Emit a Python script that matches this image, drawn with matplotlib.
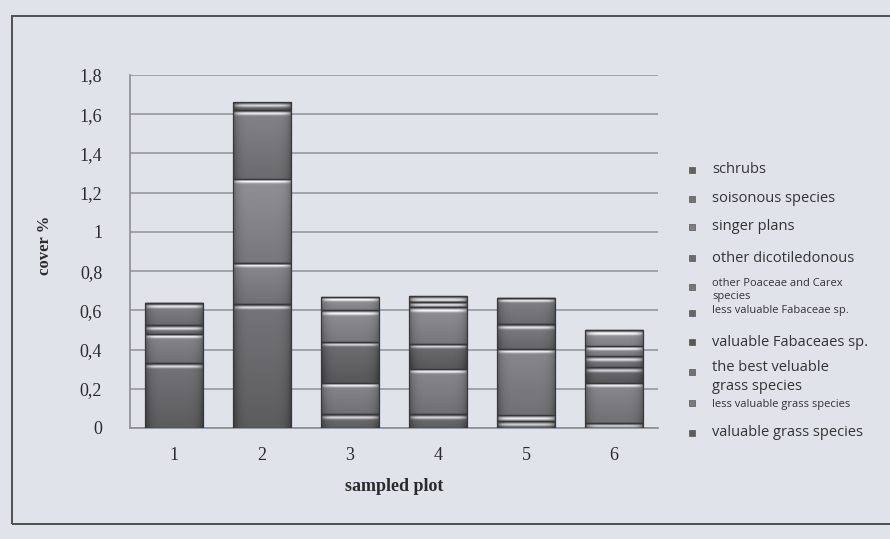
import numpy as np
import matplotlib.pyplot as plt
from matplotlib.patches import Rectangle

# sampled plots on the x axis
plots = ["1", "2", "3", "4", "5", "6"]
ticks = [0, 0.2, 0.4, 0.6, 0.8, 1.0, 1.2, 1.4, 1.6, 1.8]
tick_labels = ["0", "0,2", "0,4", "0,6", "0,8", "1", "1,2", "1,4", "1,6", "1,8"]

# cover % per plant group, stacked from the bottom up
valuable_grass = [0.33, 0.63, 0.07, 0.07, 0.035, 0.027]
less_valuable_grass = [0.0, 0.0, 0.0, 0.0, 0.03, 0.0]
best_grass = [0.15, 0.21, 0.16, 0.23, 0.34, 0.205]
valuable_fabaceae = [0.0, 0.0, 0.21, 0.13, 0.0, 0.08]
less_valuable_fabaceae = [0.045, 0.0, 0.0, 0.0, 0.125, 0.053]
other_poaceae = [0.0, 0.43, 0.16, 0.185, 0.0, 0.053]
other_dicots = [0.11, 0.35, 0.0, 0.028, 0.135, 0.0]
singer_plans = [0.0, 0.0, 0.07, 0.0, 0.0, 0.08]
poisonous = [0.0, 0.0, 0.0, 0.028, 0.0, 0.0]
shrubs = [0.0, 0.04, 0.0, 0.0, 0.0, 0.0]

series = [valuable_grass, less_valuable_grass, best_grass, valuable_fabaceae,
          less_valuable_fabaceae, other_poaceae, other_dicots, singer_plans,
          poisonous, shrubs]
shades = [0.36, 0.48, 0.44, 0.34, 0.40, 0.47, 0.42, 0.50, 0.45, 0.38]

# legend, top to bottom: (label, text y px, marker y px, font size, series index)
legend_rows = [
    ("schrubs", 170, 170, 10.5, 9),
    ("soisonous species", 199, 199, 10.5, 8),
    ("singer plans", 227, 227, 10.5, 7),
    ("other dicotiledonous", 258, 258, 10.5, 6),
    ("other Poaceae and Carex\nspecies", 290, 287, 8, 5),
    ("less valuable Fabaceae sp.", 311, 313, 8, 4),
    ("valuable Fabaceaes sp.", 343, 342, 10.5, 3),
    ("the best veluable\ngrass species", 377, 372, 10.5, 2),
    ("less valuable grass species", 405, 403, 8, 1),
    ("valuable grass species", 433, 433, 10.5, 0),
]

paper = "#e0e3ea"
W, H = 890, 539

fig = plt.figure(figsize=(W / 100, H / 100), dpi=100)
fig.patch.set_facecolor(paper)
ax = fig.add_axes([130 / W, 1 - 428 / H, 528 / W, 353 / H])
ax.set_facecolor("none")
ax.set_xlim(-0.5, 5.5)
ax.set_ylim(0, 1.8)
px_per_unit = 353 / 1.8


def segment_image(shade, hpx, cols=40):
    rows = max(int(hpx * 2), 4)
    d = (np.arange(rows) + 0.5) * hpx / rows          # px below the top edge
    u = (np.arange(cols) + 0.5) / cols
    edge = np.abs(2 * u - 1)
    v = shade + 0.10 * (1 - d / max(hpx, 1))[:, None]
    glow = 0.42 * np.exp(-((d - 3.5) / 1.4) ** 2)
    v = v + glow[:, None] * (1 - edge ** 8)[None, :]
    v = v - 0.14 * np.exp(-((d - 0.6) / 0.8) ** 2)[:, None]
    v = v - 0.16 * (edge ** 6)[None, :]
    v = np.clip(v, 0, 1)
    rgb = np.stack([v, v, v * 1.03], axis=-1)
    return np.clip(rgb, 0, 1)


x = np.arange(len(plots))
width = 0.67
bottom = np.zeros(len(plots))
for vals, shade in zip(series, shades):
    vals = np.array(vals)
    bars = ax.bar(x, vals, width, bottom=bottom, facecolor="none",
                  edgecolor="#38383a", linewidth=0.9, zorder=4)
    for rect, v in zip(bars, vals):
        if v <= 0:
            continue
        x0, y0 = rect.get_x(), rect.get_y()
        w, h = rect.get_width(), rect.get_height()
        im = ax.imshow(segment_image(shade, h * px_per_unit),
                       extent=(x0, x0 + w, y0, y0 + h), aspect="auto",
                       origin="upper", interpolation="bilinear", zorder=3)
        im.set_clip_path(rect)
    bottom += vals

ax.set_xlim(-0.5, 5.5)
ax.set_ylim(0, 1.8)
ax.set_yticks(ticks)
ax.set_yticklabels(tick_labels)
ax.set_xticks(x)
ax.set_xticklabels(plots)
ax.yaxis.grid(True, color="#9c9ea4", linewidth=1.3, zorder=0)
ax.set_axisbelow(True)
for s in ["top", "right"]:
    ax.spines[s].set_visible(False)
ax.spines["left"].set_color("#8c8e94")
ax.spines["bottom"].set_color("#8c8e94")
ax.spines["left"].set_linewidth(1.2)
ax.spines["bottom"].set_linewidth(1.2)
ax.tick_params(length=0, colors="#2b2b2d")
ax.tick_params(axis="y", pad=20)
ax.tick_params(axis="x", pad=14)
for lab in ax.get_xticklabels() + ax.get_yticklabels():
    lab.set_family("Liberation Serif")
    lab.set_fontsize(13)
    lab.set_color("#2b2b2d")

ax.set_xlabel("sampled plot", family="Liberation Serif", fontsize=13,
              fontweight="bold", color="#2b2b2d", labelpad=10)
fig.text(45 / W, 1 - 245 / H, "cover %", rotation=90, family="Liberation Serif",
         fontsize=12, fontweight="bold", color="#2b2b2d", ha="center", va="center")

# legend drawn by hand to keep the uneven row spacing
for label, ty, my, fs, idx in legend_rows:
    g = shades[idx]
    fig.add_artist(Rectangle((689 / W, 1 - (my + 3) / H), 6 / W, 6 / H,
                             transform=fig.transFigure, facecolor=(g, g, g),
                             edgecolor="#555555", linewidth=0.5))
    fig.text(712 / W, 1 - ty / H, label, family="Open Sans", fontsize=fs,
             color="#333335", ha="left", va="center", linespacing=1.3)

# outer frame of the figure box
fig.add_artist(Rectangle((12 / W, 1 - 524 / H), 900 / W, 508 / H,
                         transform=fig.transFigure, facecolor="none",
                         edgecolor="#505052", linewidth=1.4))

fig.savefig("out.png", dpi=100, facecolor=fig.get_facecolor())
